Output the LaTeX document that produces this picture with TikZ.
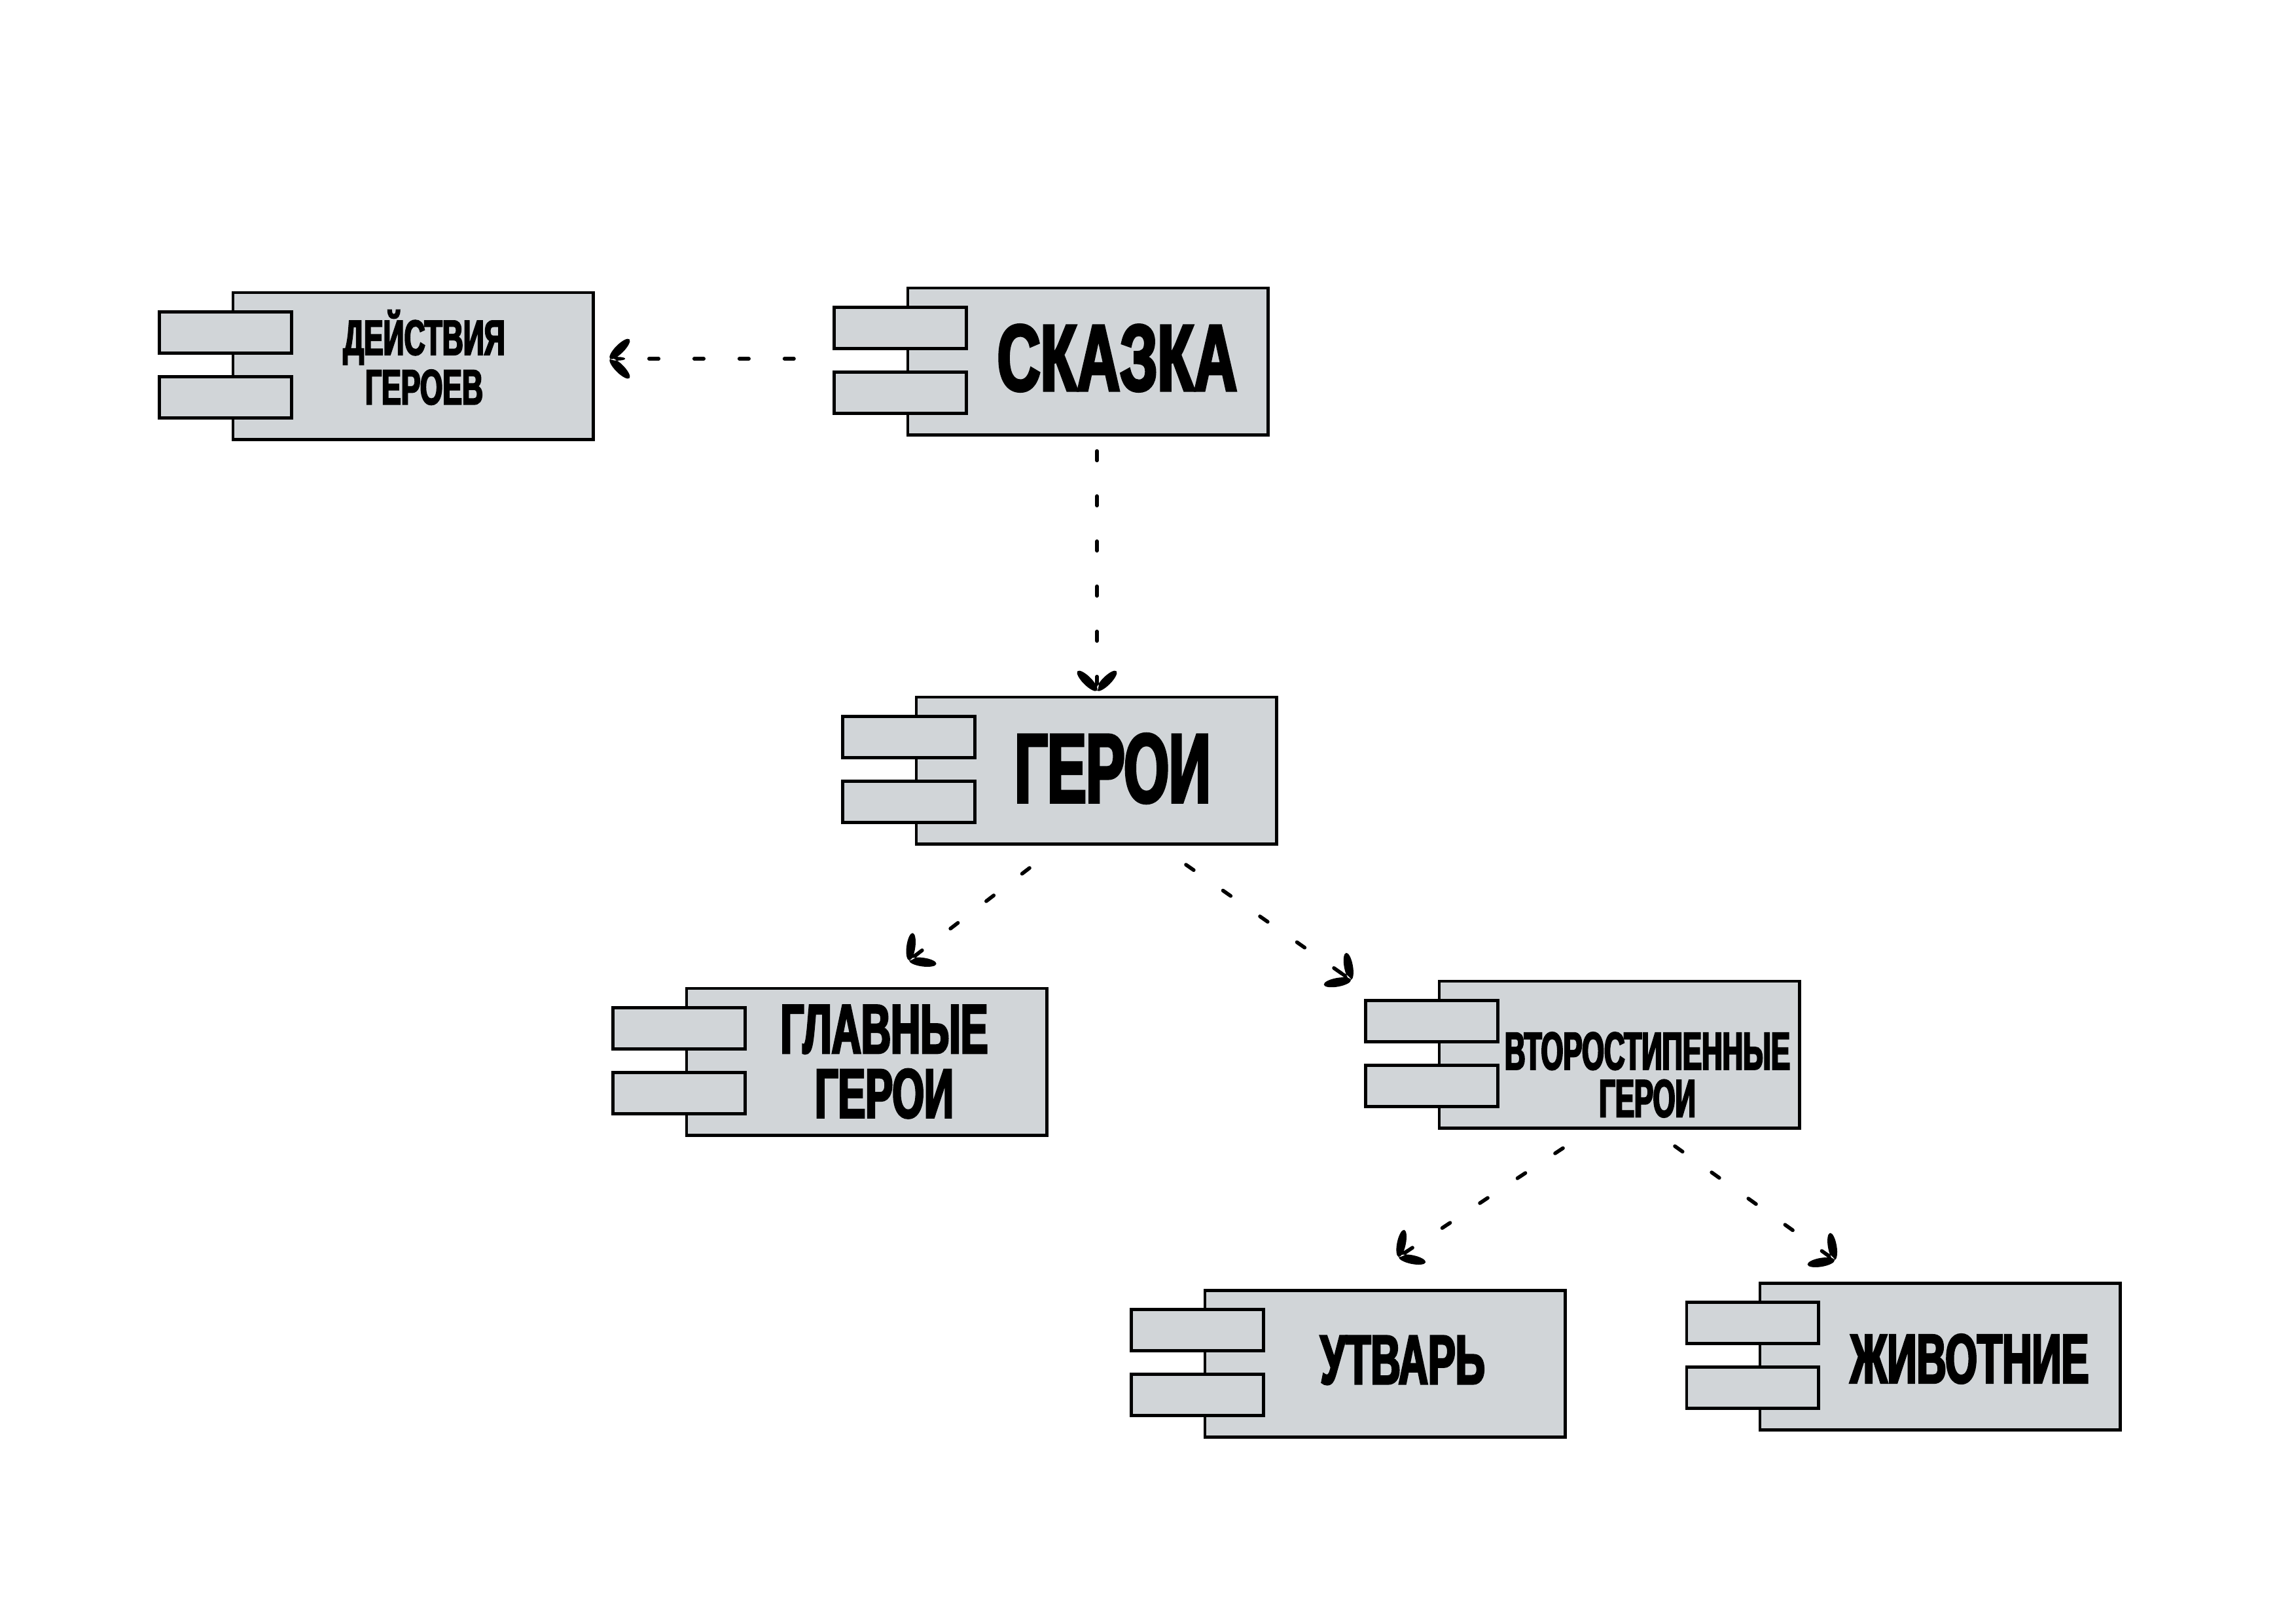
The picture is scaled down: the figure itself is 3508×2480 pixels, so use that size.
\documentclass[tikz,border=0pt]{standalone}
\usepackage{fontspec}
\newfontfamily\condA[FakeStretch=0.59,FakeBold=3]{Liberation Sans}
\newfontfamily\condS[FakeStretch=0.635,FakeBold=3]{Liberation Sans}
\newfontfamily\condB[FakeStretch=0.54,FakeBold=3]{Liberation Sans}
\definecolor{boxgray}{RGB}{209,213,216}
\pgfdeclarearrow{
  name = Leaf,
  parameters = {},
  setup code = {
    \pgfarrowssettipend{0pt}
    \pgfarrowssetlineend{-3pt}
    \pgfarrowssetbackend{-9pt}
    \pgfarrowshullpoint{0pt}{0pt}
    \pgfarrowshullpoint{-9pt}{9pt}
    \pgfarrowshullpoint{-9pt}{-9pt}
  },
  drawing code = {
    \pgfpathellipse{\pgfpoint{-4.22pt}{4.22pt}}{\pgfpoint{-4.22pt}{4.22pt}}{\pgfpoint{1.35pt}{1.35pt}}
    \pgfpathellipse{\pgfpoint{-4.22pt}{-4.22pt}}{\pgfpoint{-4.22pt}{-4.22pt}}{\pgfpoint{1.35pt}{-1.35pt}}
    \pgfpathellipse{\pgfpoint{-3.3pt}{0pt}}{\pgfpoint{3.3pt}{0pt}}{\pgfpoint{0pt}{0.8pt}}
    \pgfusepathqfill
  },
}
\tikzset{
  mainbox/.style={draw=black, fill=boxgray, line width=1.4pt, minimum width=5.5cm,
    minimum height=2.24cm, inner sep=0pt, outer sep=0pt, anchor=north west},
  portbox/.style={draw=black, fill=boxgray, line width=1.4pt, minimum width=2.01cm,
    minimum height=0.63cm, inner sep=0pt, outer sep=0pt, anchor=north west},
  lbl/.style={align=center, inner sep=0pt, text=black},
  conn/.style={line width=1.6pt, line cap=round, dash pattern=on 4.1pt off 15.5pt, -Leaf}
}
\newcommand\compbox[3]{%
  \node[mainbox] (#1) at (#2,#3) {};
  \node[portbox] (#1-pa) at ([xshift=-1.12cm,yshift=-0.29cm]#1.north west) {};
  \node[portbox] (#1-pb) at ([xshift=-1.12cm,yshift=-1.28cm]#1.north west) {};
}
\begin{document}
\begin{tikzpicture}[x=0.01cm,y=-0.01cm]
\useasboundingbox[fill=white] (0,0) rectangle (3508,2480);
\compbox{deist}{356}{447}
\compbox{skazka}{1387}{440}
\compbox{geroi}{1400}{1065}
\compbox{glav}{1049}{1510}
\compbox{vtor}{2199}{1499}
\compbox{utvar}{1841}{1971}
\compbox{zhiv}{2689}{1960}

\node[lbl, font={\condA\bfseries\fontsize{21.4}{21.5}\selectfont}] (t-deist) at (648,546) {ДЕЙСТВИЯ\\ГЕРОЕВ};
\node[lbl, font={\condS\bfseries\fontsize{40.9}{45}\selectfont}] (t-skazka) at (1707,547) {СКАЗКА};
\node[lbl, font={\condA\bfseries\fontsize{42.6}{45}\selectfont}] (t-geroi) at (1700,1174) {ГЕРОИ};
\node[lbl, font={\condA\bfseries\fontsize{30.2}{28}\selectfont}] (t-glav) at (1351,1622) {ГЛАВНЫЕ\\ГЕРОИ};
\node[lbl, font={\condB\bfseries\fontsize{23}{20.6}\selectfont}] (t-vtor) at (2517,1642) {ВТОРОСТИПЕННЫЕ\\ГЕРОИ};
\node[lbl, font={\condA\bfseries\fontsize{30.2}{32}\selectfont}] (t-utvar) at (2143,2078) {УТВАРЬ};
\node[lbl, font={\condA\bfseries\fontsize{30.2}{32}\selectfont}] (t-zhiv) at (3009,2076) {ЖИВОТНИЕ};

\coordinate (a-s) at (1213,548);  \coordinate (a-e) at (932,548);
\coordinate (b-s) at (1676,689);  \coordinate (b-e) at (1676,1055);
\coordinate (c-s) at (1573,1326); \coordinate (c-e) at (1389,1467);
\coordinate (d-s) at (1812,1321); \coordinate (d-e) at (2064,1497);
\coordinate (e-s) at (2388,1754); \coordinate (e-e) at (2137,1920);
\coordinate (f-s) at (2559,1751); \coordinate (f-e) at (2803,1925);

\draw[conn] (a-s) -- (a-e);
\draw[conn] (b-s) -- (b-e);
\draw[conn] (c-s) -- (c-e);
\draw[conn] (d-s) -- (d-e);
\draw[conn] (e-s) -- (e-e);
\draw[conn] (f-s) -- (f-e);
\end{tikzpicture}
\end{document}
